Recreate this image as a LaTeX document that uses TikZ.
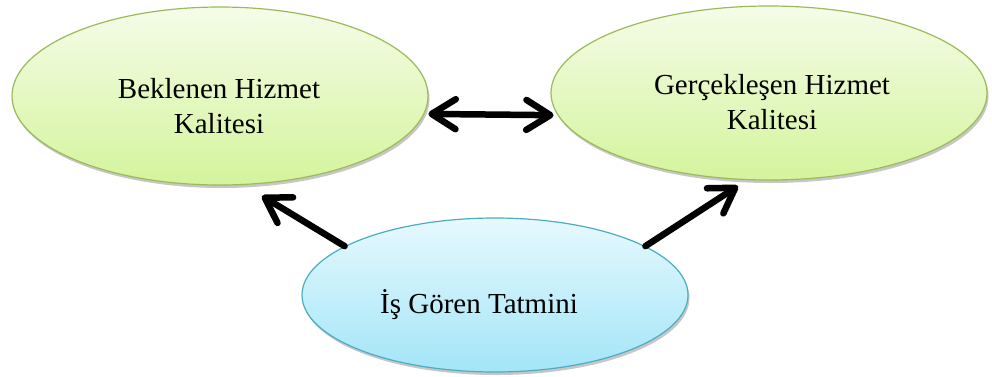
\documentclass[tikz,border=0pt]{standalone}
\usepackage{fontspec}
\setmainfont{Liberation Serif}
\usetikzlibrary{shapes.geometric,arrows.meta,shadows}
\definecolor{greenline}{HTML}{9BBB59}
\definecolor{greentop}{HTML}{F5FCE8}
\definecolor{greenbot}{HTML}{D4F49C}
\definecolor{blueline}{HTML}{4BACC6}
\definecolor{bluetop}{HTML}{E6F9FE}
\definecolor{bluebot}{HTML}{A3E5F7}
\begin{document}
\begin{tikzpicture}[x=1pt,y=-1pt,
  ell/.style={ellipse, inner sep=0pt, line width=1.2pt,
    drop shadow={shadow xshift=1.5pt, shadow yshift=-3pt, opacity=0.22, fill=black}},
  greenell/.style={ell, draw=greenline, top color=greentop, bottom color=greenbot},
  blueell/.style={ell, draw=blueline, top color=bluetop, bottom color=bluebot},
  lbl/.style={font=\fontsize{29}{35}\selectfont, align=center, inner sep=0pt},
  conn/.style={line width=6.5pt, line cap=round,
    -{Straight Barb[length=24pt, width=30pt, round]}},
  dconn/.style={line width=6.5pt, line cap=round,
    {Straight Barb[length=24pt, width=30pt, round]}-{Straight Barb[length=24pt, width=30pt, round]}}
]
\useasboundingbox (0,0) rectangle (992,376);
\node[greenell, minimum width=416pt, minimum height=178pt] (left) at (220,96) {};
\node[greenell, minimum width=436pt, minimum height=174pt] (right) at (769,93) {};
\node[blueell, minimum width=386pt, minimum height=154pt] (bot) at (495,295) {};
\node[lbl] (lt) at (219,106) {Beklenen Hizmet\\Kalitesi};
\node[lbl] (rt) at (772,102) {Gerçekleşen Hizmet\\Kalitesi};
\node[lbl, anchor=base] (bt) at (479,313) {İş Gören Tatmini};
\coordinate (tipL) at (262,196);
\coordinate (tipR) at (738,186);
\draw[conn] (bot.162) -- (tipL);
\draw[conn] (bot.18) -- (tipR);
\draw[dconn, shorten <=4pt, shorten >=4pt] (left.-5.3) -- (right.186);
\end{tikzpicture}
\end{document}
